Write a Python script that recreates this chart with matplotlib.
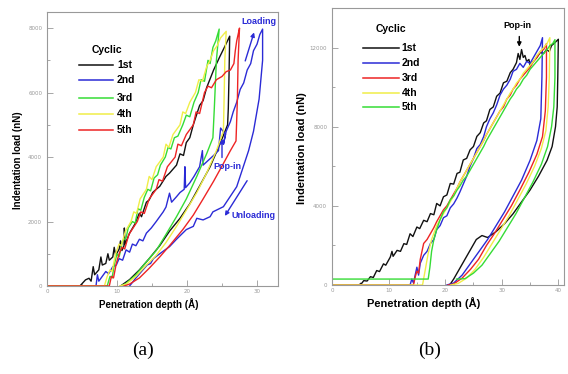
import numpy as np
import matplotlib
matplotlib.use("Agg")
import matplotlib.pyplot as plt
from matplotlib.ticker import MultipleLocator

# panel (a): (depth in A, load in nN)
a_1st = [(0, 0), (4.7, 0), (5.5, 190), (6.0, 240), (6.3, 150), (6.6, 600), (6.8, 350), (7.4, 500),
         (7.7, 900), (7.9, 650), (8.4, 700), (8.7, 1000), (8.9, 800), (9.4, 900), (9.6, 1200),
         (9.8, 950), (10.3, 1140), (10.5, 1400), (10.7, 1100), (11.0, 1250), (11.05, 1800),
         (11.15, 1300), (11.8, 1640), (12.5, 1900), (13.2, 2260), (13.5, 2150), (14.2, 2600),
         (14.6, 2670), (15.1, 2900), (15.6, 3000), (16.1, 3090), (17.0, 3400), (17.5, 3500),
         (18.5, 3750), (19.0, 4100), (19.5, 4050), (19.9, 4450), (20.4, 4600), (20.9, 5000),
         (21.8, 5600), (22.3, 5750), (22.8, 6150), (23.8, 6700), (24.7, 7120), (25.4, 7430),
         (26.1, 7750), (26.0, 6500), (25.9, 5500), (25.8, 5000), (24.7, 4400), (23.3, 3700),
         (21.8, 3100), (20.4, 2550), (19.0, 2100), (17.5, 1700), (16.1, 1250), (14.6, 850),
         (13.2, 500), (11.8, 200), (10.5, 0)]
a_2nd = [(0, 0), (7.0, 0), (7.2, 350), (7.4, 150), (7.9, 300), (8.4, 450), (8.8, 380), (9.4, 600),
         (9.9, 650), (10.3, 850), (10.8, 800), (11.3, 1120), (11.8, 1050), (12.2, 1300),
         (12.7, 1250), (13.2, 1450), (13.7, 1400), (14.2, 1640), (14.9, 1800), (15.6, 2000),
         (16.1, 2150), (16.6, 2300), (17.0, 2450), (17.5, 2880), (17.8, 2600), (18.5, 2770),
         (19.0, 2900), (19.6, 3000), (19.7, 3700), (19.8, 3050), (20.4, 3200), (21.0, 3400),
         (21.8, 3700), (22.2, 4200), (22.3, 3750), (22.8, 3850), (23.8, 4050), (24.5, 4200),
         (24.8, 4900), (25.5, 4700), (25.2, 4400), (25.6, 4800), (26.2, 5100), (26.6, 5400),
         (27.1, 5700), (27.6, 6100), (28.1, 6300), (28.6, 6700), (29.1, 6900), (29.5, 7300),
         (30.0, 7500), (30.4, 7800), (30.8, 7970), (30.8, 7000), (30.3, 5800), (29.5, 4800),
         (28.8, 4200), (27.1, 3080), (25.2, 2460), (23.7, 2300), (23.3, 2150), (22.3, 2050),
         (21.4, 2100), (20.9, 1850), (19.9, 1750), (18.5, 1450), (17.5, 1220), (16.1, 1000),
         (15.2, 850), (14.8, 700), (14.3, 650), (13.5, 450), (12.7, 250), (11.8, 0)]
a_3rd = [(0, 0), (8.6, 0), (9.0, 300), (9.3, 250), (9.6, 650), (10.0, 1000), (10.3, 900),
         (10.8, 1400), (11.3, 1500), (11.6, 1800), (12.2, 2000), (12.6, 1950), (13.0, 2400),
         (13.4, 2350), (13.9, 2750), (14.4, 3000), (14.8, 2950), (15.3, 3350), (15.8, 3450),
         (16.2, 3750), (16.9, 4000), (17.3, 4300), (17.7, 4250), (18.2, 4600), (18.7, 4650),
         (19.4, 5000), (19.9, 5300), (20.4, 5250), (21.0, 5700), (21.6, 6000), (22.0, 6400),
         (22.5, 6350), (23.0, 7000), (23.3, 6900), (23.7, 7400), (24.1, 7600), (24.6, 7970),
         (24.2, 7000), (23.9, 5500), (23.7, 4600), (22.8, 4100), (21.4, 3400), (19.9, 2700),
         (18.5, 2150), (17.0, 1600), (15.6, 1100), (14.2, 750), (12.7, 350), (11.3, 80), (10.6, 0)]
a_4th = [(0, 0), (8.2, 0), (8.6, 300), (9.0, 500), (9.3, 450), (9.8, 1000), (10.3, 1300),
         (10.6, 1250), (11.2, 1700), (12.0, 2000), (12.4, 2300), (12.8, 2250), (13.3, 2700),
         (14.2, 3000), (14.6, 3400), (15.0, 3300), (15.6, 3700), (16.6, 4000), (17.0, 4400),
         (17.4, 4300), (18.0, 4700), (19.0, 5000), (19.4, 5400), (19.8, 5350), (20.4, 5700),
         (21.2, 6000), (21.7, 6400), (22.2, 6350), (22.8, 6800), (23.3, 7000), (23.8, 7300),
         (24.3, 7450), (24.8, 7700), (25.6, 7900), (25.4, 7000), (25.3, 5800), (25.2, 4800),
         (24.2, 4200), (22.8, 3500), (21.4, 2900), (19.9, 2350), (18.5, 1850), (17.0, 1350),
         (15.6, 950), (14.2, 650), (12.7, 300), (11.3, 60), (10.4, 0)]
a_5th = [(0, 0), (8.9, 0), (9.2, 300), (9.5, 250), (9.9, 700), (10.3, 1000), (10.7, 1200),
         (11.1, 1150), (11.7, 1600), (12.3, 1800), (12.9, 2000), (13.4, 2300), (13.9, 2250),
         (14.6, 2700), (15.6, 3000), (16.0, 3300), (16.5, 3250), (17.2, 3700), (18.3, 4000),
         (18.7, 4400), (19.2, 4350), (19.9, 4700), (20.9, 5000), (21.3, 5400), (21.8, 5350),
         (22.5, 6000), (23.0, 6200), (23.5, 6150), (24.2, 6400), (25.0, 6500), (25.6, 6650),
         (26.2, 6700), (26.7, 6900), (26.9, 7300), (27.1, 7600), (27.3, 7800), (27.5, 8000),
         (27.3, 7000), (27.2, 5800), (27.0, 4500), (26.2, 4200), (25.2, 3800), (23.8, 3250),
         (22.3, 2700), (20.9, 2200), (19.4, 1750), (17.5, 1250), (16.1, 900), (14.6, 550),
         (13.2, 250), (11.8, 60), (11.0, 0)]

# panel (b)
b_1st = [(0, 0), (4.7, 0), (5.3, 100), (5.6, 220), (6.2, 200), (6.8, 420), (7.3, 380), (7.9, 730),
         (8.4, 680), (9.1, 1070), (9.5, 1000), (10.3, 1410), (10.6, 1700), (10.8, 1450),
         (11.5, 1750), (12.1, 1700), (12.7, 2090), (13.2, 2050), (13.8, 2590), (14.3, 2450),
         (15.0, 2930), (15.5, 2850), (16.2, 3270), (16.8, 3200), (17.4, 3610), (18.0, 3550),
         (18.5, 4120), (19.1, 4000), (19.7, 4460), (20.3, 4550), (20.9, 5130), (21.5, 5100),
         (22.1, 5640), (22.6, 5700), (23.2, 6320), (23.8, 6400), (24.4, 6830), (25.0, 7000),
         (25.6, 7510), (26.2, 7700), (26.8, 8190), (27.3, 8300), (27.9, 8870), (28.5, 9000),
         (29.1, 9540), (29.7, 9700), (30.3, 10220), (30.9, 10300), (31.5, 10730), (32.0, 10900),
         (32.6, 11240), (32.9, 11700), (33.2, 11400), (33.5, 11900), (33.8, 11500), (34.1, 11600),
         (34.4, 11300), (34.8, 11400), (35.0, 11100), (35.6, 11300), (36.2, 11500), (36.8, 11750),
         (37.4, 11700), (37.9, 11900), (38.4, 11800), (38.8, 12100), (39.4, 12250), (40.0, 12420),
         (39.9, 10500), (39.8, 9000), (39.5, 8000), (38.9, 7000), (38.0, 6300), (36.5, 5500),
         (35.0, 4800), (33.5, 4200), (32.0, 3600), (30.5, 3100), (29.0, 2700), (27.5, 2400),
         (26.5, 2500), (25.5, 2300), (24.5, 1800), (23.5, 1300), (22.5, 800), (21.5, 300), (20.8, 0)]
b_2nd = [(0, 0), (13.8, 0), (14.1, 300), (14.4, 100), (15.0, 900), (15.3, 500), (15.6, 1100),
         (16.2, 1500), (16.8, 1700), (17.4, 2100), (18.0, 2300), (18.5, 2800), (19.1, 3000),
         (19.7, 3400), (20.3, 3500), (20.9, 3900), (21.5, 4100), (22.1, 4400), (22.6, 4700),
         (23.2, 5100), (23.8, 5500), (24.4, 6000), (25.0, 6400), (25.6, 6900), (26.2, 7100),
         (26.8, 7500), (27.3, 8000), (27.9, 8400), (28.5, 8700), (29.1, 9100), (29.7, 9600),
         (30.3, 9900), (30.9, 10100), (31.5, 10400), (32.0, 10800), (32.6, 10900), (33.2, 11200),
         (33.8, 11000), (34.4, 11300), (35.0, 11200), (35.6, 11500), (36.2, 11800), (36.8, 12100),
         (37.2, 12500), (37.1, 10500), (36.9, 8400), (36.2, 7300), (35.0, 6300), (33.5, 5300),
         (32.0, 4500), (30.5, 3700), (29.0, 3000), (27.5, 2300), (26.0, 1700), (24.5, 1100),
         (23.0, 500), (21.5, 100), (20.3, 0)]
b_3rd = [(0, 0), (14.4, 0), (14.7, 400), (15.0, 700), (15.3, 600), (15.6, 1300), (16.2, 2100),
         (16.8, 2300), (17.4, 2600), (18.0, 2900), (18.5, 3200), (19.1, 3500), (19.7, 3800),
         (20.3, 4000), (20.9, 4300), (21.5, 4600), (22.1, 4900), (22.6, 5200), (23.2, 5500),
         (23.8, 5800), (24.4, 6100), (25.0, 6400), (25.6, 6700), (26.2, 7000), (26.8, 7300),
         (27.3, 7600), (27.9, 7900), (28.5, 8200), (29.1, 8500), (29.7, 8800), (30.3, 9000),
         (30.9, 9400), (31.5, 9600), (32.0, 9900), (32.6, 10100), (33.2, 10400), (33.8, 10600),
         (34.4, 10800), (35.0, 11000), (35.6, 11300), (36.2, 11500), (36.8, 11800), (37.4, 11900),
         (37.9, 12200), (37.9, 10500), (37.7, 8800), (37.2, 7500), (36.2, 6600), (34.8, 5700),
         (33.2, 4800), (31.7, 4000), (30.2, 3300), (28.7, 2600), (27.3, 2000), (25.9, 1300),
         (24.5, 800), (23.0, 350), (21.5, 50), (20.5, 0)]
b_4th = [(0, 0), (16.0, 0), (16.5, 800), (17.0, 1600), (17.6, 2300), (18.5, 3000), (19.1, 3300),
         (19.7, 3600), (20.3, 3900), (20.9, 4200), (21.5, 4500), (22.1, 4900), (22.6, 5200),
         (23.2, 5500), (23.8, 5800), (24.4, 6100), (25.0, 6400), (25.6, 6700), (26.2, 7000),
         (26.8, 7300), (27.3, 7600), (27.9, 7900), (28.5, 8200), (29.1, 8500), (29.7, 8800),
         (30.3, 9100), (30.9, 9400), (31.5, 9700), (32.0, 9900), (32.6, 10200), (33.2, 10400),
         (33.8, 10700), (34.4, 10900), (35.0, 11100), (35.6, 11300), (36.2, 11600), (36.8, 11800),
         (37.4, 12000), (38.0, 12200), (38.5, 12500), (38.4, 10500), (38.2, 9000), (37.8, 7800),
         (37.0, 6900), (35.8, 6000), (34.3, 5100), (32.8, 4300), (31.3, 3500), (29.8, 2800),
         (28.3, 2100), (26.8, 1400), (25.3, 800), (23.8, 350), (22.3, 80), (21.0, 0)]
b_5th = [(0, 300), (17.0, 300), (17.3, 900), (17.6, 1700), (18.0, 2300), (18.5, 2800),
         (19.1, 3300), (19.7, 3700), (20.3, 3900), (20.9, 4300), (21.5, 4500), (22.1, 4800),
         (22.6, 5000), (23.2, 5300), (23.8, 5500), (24.4, 5800), (25.0, 6100), (25.6, 6400),
         (26.2, 6700), (26.8, 7000), (27.3, 7300), (27.9, 7600), (28.5, 7900), (29.1, 8200),
         (29.7, 8500), (30.3, 8800), (30.9, 9100), (31.5, 9400), (32.0, 9600), (32.6, 9900),
         (33.2, 10100), (33.8, 10400), (34.4, 10600), (35.0, 10900), (35.6, 11100), (36.2, 11300),
         (36.8, 11500), (37.4, 11700), (38.0, 11900), (38.5, 12100), (39.0, 12200), (39.4, 12400),
         (39.4, 10500), (39.2, 9000), (38.8, 8000), (38.1, 7000), (37.0, 6100), (35.5, 5200),
         (34.0, 4400), (32.5, 3600), (31.0, 2900), (29.5, 2200), (28.0, 1600), (26.5, 1000),
         (25.0, 600), (23.5, 320), (22.0, 300)]

labels = ["1st", "2nd", "3rd", "4th", "5th"]
BLACK, BLUE, GREEN, YELLOW, RED = "#111111", "#2b2bd6", "#35dc35", "#f0ee48", "#ee2424"
colors_a = [BLACK, BLUE, GREEN, YELLOW, RED]
colors_b = [BLACK, BLUE, RED, YELLOW, GREEN]
SANS = "Liberation Sans"


def style_axes(ax, xmax, ymax, xstep, ystep):
    ax.set_xlim(0, xmax)
    ax.set_ylim(0, ymax)
    ax.xaxis.set_major_locator(MultipleLocator(xstep))
    ax.xaxis.set_minor_locator(MultipleLocator(xstep / 2))
    ax.yaxis.set_major_locator(MultipleLocator(ystep))
    ax.yaxis.set_minor_locator(MultipleLocator(ystep / 2))
    ax.tick_params(which="both", direction="in", colors="#999999", labelsize=4, width=0.6)
    ax.tick_params(which="major", length=4)
    ax.tick_params(which="minor", length=2.5)
    ax.tick_params(axis="x", pad=2)
    for s in ax.spines.values():
        s.set_color("#999999")
        s.set_linewidth(0.8)


def draw_legend(ax, colors, x0, x1, xt, ytitle, rows):
    ax.text(x0 + 0.12, ytitle, "Cyclic", transform=ax.transAxes, family=SANS,
            weight="bold", size=7.5, ha="center", va="center")
    for lab, c, y in zip(labels, colors, rows):
        ax.plot([x0, x1], [y, y], color=c, lw=1.1, transform=ax.transAxes)
        ax.text(xt, y, lab, transform=ax.transAxes, family=SANS, weight="bold",
                size=7.5, ha="left", va="center")


fig = plt.figure(figsize=(5.68, 3.74), dpi=100)
ax_a = fig.add_axes([47 / 568, 88 / 374, 231 / 568, 274 / 374])
ax_b = fig.add_axes([332 / 568, 89 / 374, 232 / 568, 277 / 374])

for data, c in zip([a_1st, a_2nd, a_3rd, a_4th, a_5th], colors_a):
    d = np.array(data)
    ax_a.plot(d[:, 0], d[:, 1], color=c, lw=1.0)
for data, c in zip([b_1st, b_2nd, b_3rd, b_4th, b_5th], colors_b):
    d = np.array(data)
    ax_b.plot(d[:, 0], d[:, 1], color=c, lw=1.0)

style_axes(ax_a, 33, 8500, 10, 2000)
style_axes(ax_b, 41, 14000, 10, 4000)

draw_legend(ax_a, colors_a, 0.139, 0.286, 0.303, 0.861, [0.807, 0.752, 0.686, 0.628, 0.569])
draw_legend(ax_b, colors_b, 0.134, 0.289, 0.300, 0.924, [0.856, 0.801, 0.747, 0.693, 0.643])

ax_a.text(0.44, -0.066, "Penetration depth (\u00c5)", transform=ax_a.transAxes, family=SANS,
          weight="bold", size=7, ha="center", va="center")
ax_a.text(-0.126, 0.46, "Indentation load (nN)", transform=ax_a.transAxes, family=SANS,
          weight="bold", size=7, ha="center", va="center", rotation=90)
ax_b.text(0.397, -0.066, "Penetration depth (\u00c5)", transform=ax_b.transAxes, family=SANS,
          weight="bold", size=8, ha="center", va="center")
ax_b.text(-0.129, 0.495, "Indentation load (nN)", transform=ax_b.transAxes, family=SANS,
          weight="bold", size=8, ha="center", va="center", rotation=90)

# annotations
ann_blue = dict(color=BLUE, family=SANS, weight="bold", size=6.5)
ax_a.text(30.2, 8200, "Loading", ha="center", va="center", **ann_blue)
ax_a.text(25.7, 3700, "Pop-in", ha="center", va="center", **ann_blue)
ax_a.text(26.4, 2200, "Unloading", ha="left", va="center", **ann_blue)
arrow_blue = dict(arrowstyle="-|>", color=BLUE, lw=1.0, mutation_scale=6)
ax_a.annotate("", xy=(29.7, 7950), xytext=(28.2, 6900), arrowprops=arrow_blue)
ax_a.annotate("", xy=(25.0, 4650), xytext=(25.0, 3900), arrowprops=arrow_blue)
ax_a.annotate("", xy=(25.2, 2100), xytext=(28.8, 3340), arrowprops=arrow_blue)

ax_b.text(32.8, 13100, "Pop-in", ha="center", va="center", family=SANS, weight="bold", size=6.5)
ax_b.annotate("", xy=(33.1, 11900), xytext=(33.1, 12700),
              arrowprops=dict(arrowstyle="-|>", color="black", lw=1.0, mutation_scale=6))

fig.text(143 / 568, 1 - 350 / 374, "(a)", family="Liberation Serif", size=14, ha="center", va="center")
fig.text(430 / 568, 1 - 350 / 374, "(b)", family="Liberation Serif", size=14, ha="center", va="center")

fig.savefig("out.png", dpi=100)
